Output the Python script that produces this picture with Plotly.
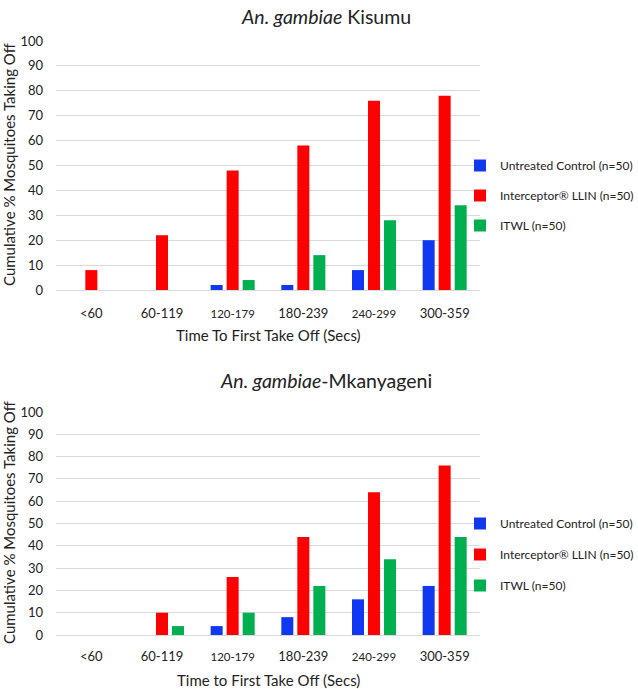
import plotly.graph_objects as go

categories = ["<60", "60-119", "120-179", "180-239", "240-299", "300-359"]
tick_labels = ["<60", "60-119", "<span style='font-size:11.5px'>120-179</span>", "180-239",
               "<span style='font-size:11.5px'>240-299</span>", "300-359"]

series_names = ["Untreated Control (n=50)", "Interceptor\u00ae LLIN (n=50)", "ITWL (n=50)"]
colors = ["#1038F0", "#FF0000", "#00B050"]

kisumu_control = [0, 0, 2, 2, 8, 20]
kisumu_llin = [8, 22, 48, 58, 76, 78]
kisumu_itwl = [0, 0, 4, 14, 28, 34]

mkanyageni_control = [0, 0, 4, 8, 16, 22]
mkanyageni_llin = [0, 10, 26, 44, 64, 76]
mkanyageni_itwl = [0, 4, 10, 22, 34, 44]

FONT = "Lato, Open Sans, sans-serif"
W, H = 638, 689

fig = go.Figure()

top = [kisumu_control, kisumu_llin, kisumu_itwl]
bot = [mkanyageni_control, mkanyageni_llin, mkanyageni_itwl]
for i, (name, col) in enumerate(zip(series_names, colors)):
    fig.add_trace(go.Bar(x=categories, y=top[i], name=name, marker_color=col,
                         marker_line_width=0, xaxis="x", yaxis="y",
                         legend="legend", legendgroup=f"a{i}"))
for i, (name, col) in enumerate(zip(series_names, colors)):
    fig.add_trace(go.Bar(x=categories, y=bot[i], name=name, marker_color=col,
                         marker_line_width=0, xaxis="x2", yaxis="y2",
                         legend="legend2", legendgroup=f"b{i}"))

def py(px):
    return 1 - px / H

def px_x(px):
    return px / W

plot_l, plot_r = 56, 480
xdom = [px_x(plot_l), px_x(plot_r)]

axis_common = dict(tickfont=dict(family=FONT, size=13, color="#222"))
fig.update_layout(
    width=W, height=H,
    margin=dict(l=0, r=0, t=0, b=0, autoexpand=False),
    paper_bgcolor="white", plot_bgcolor="white",
    barmode="group", bargap=0.32, bargroupgap=0.25,
    font=dict(family=FONT, size=12, color="#222"),
    xaxis=dict(domain=xdom, anchor="y", type="category", showgrid=False,
               tickvals=categories, ticktext=tick_labels,
               ticklabelstandoff=14, showline=False, **axis_common),
    yaxis=dict(domain=[py(290), py(41)], anchor="x", range=[0, 100], dtick=10,
               showgrid=True, gridcolor="#dadada", gridwidth=1,
               zeroline=True, zerolinecolor="#dadada", zerolinewidth=1,
               ticklabelstandoff=12, **axis_common),
    xaxis2=dict(domain=xdom, anchor="y2", type="category", showgrid=False,
                tickvals=categories, ticktext=tick_labels,
                ticklabelstandoff=12, showline=False, **axis_common),
    yaxis2=dict(domain=[py(635), py(412)], anchor="x2", range=[0, 100], dtick=10,
                showgrid=True, gridcolor="#dadada", gridwidth=1,
                zeroline=True, zerolinecolor="#dadada", zerolinewidth=1,
                ticklabelstandoff=12, **axis_common),
    legend=dict(x=px_x(460), y=py(151), xanchor="left", yanchor="top",
                font=dict(family=FONT, size=12, color="#222"),
                tracegroupgap=11, traceorder="grouped", bgcolor="rgba(0,0,0,0)"),
    legend2=dict(x=px_x(460), y=py(509), xanchor="left", yanchor="top",
                 font=dict(family=FONT, size=12, color="#222"),
                 tracegroupgap=12, traceorder="grouped", bgcolor="rgba(0,0,0,0)"),
)

title_font = dict(family=FONT, size=19.5, color="#222")
label_font = dict(family=FONT, size=15, color="#222")
annots = [
    dict(text="<i>An. gambiae</i> Kisumu", x=px_x(326), y=py(16), font=title_font),
    dict(text="<i>An. gambiae</i>-Mkanyageni", x=px_x(326), y=py(380), font=title_font),
    dict(text="Time To First Take Off (Secs)", x=px_x(268), y=py(335), font=label_font),
    dict(text="Time to First Take Off (Secs)", x=px_x(268), y=py(680), font=label_font),
    dict(text="Cumulative % Mosquitoes Taking Off", x=px_x(9), y=py(165), font=label_font, textangle=-90),
    dict(text="Cumulative % Mosquitoes Taking Off", x=px_x(9), y=py(523), font=label_font, textangle=-90),
]
for a in annots:
    fig.add_annotation(xref="paper", yref="paper", showarrow=False,
                       xanchor="center", yanchor="middle", **a)

fig.write_html("out.html", config={"displayModeBar": False},
               post_script="document.body.style.margin='0';document.body.style.overflow='hidden';")
